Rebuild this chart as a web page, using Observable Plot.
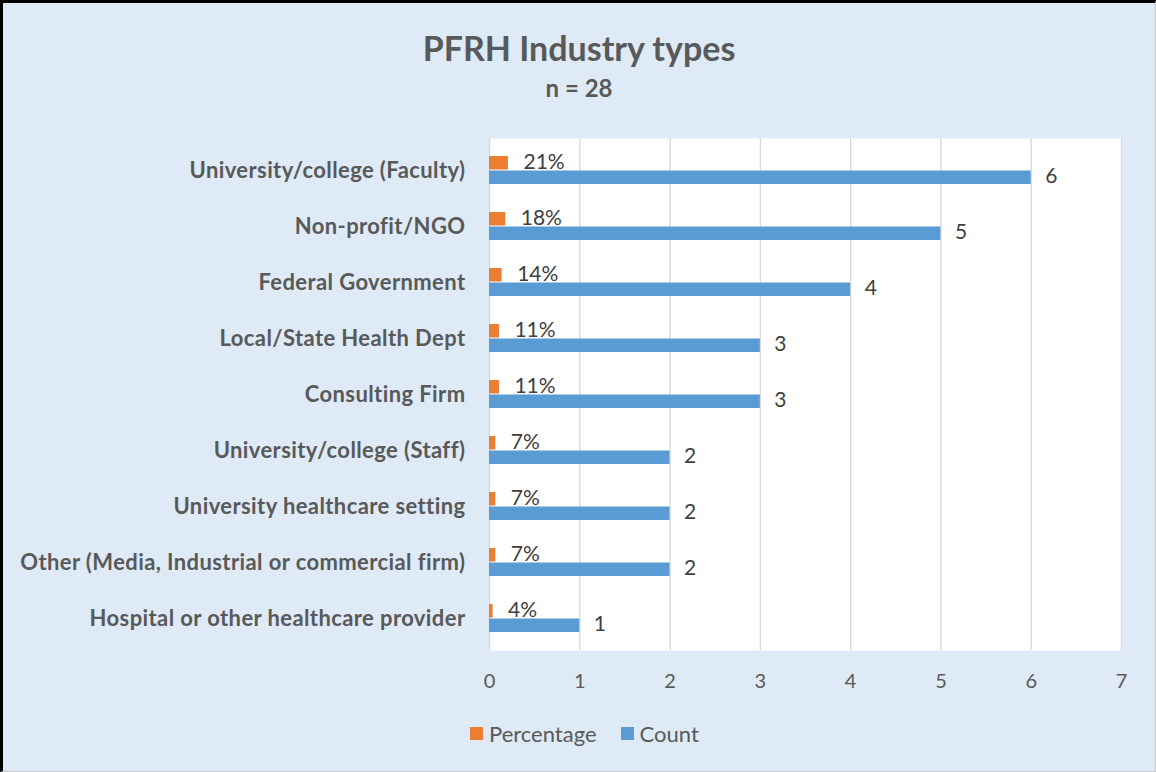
<!DOCTYPE html>
<html><head><meta charset="utf-8">
<script src="https://cdn.jsdelivr.net/npm/d3@7"></script>
<script src="https://cdn.jsdelivr.net/npm/@observablehq/plot@0.6"></script>
<style>
html,body{margin:0;padding:0;background:#fff;}
#chart{position:relative;width:1156px;height:772px;box-sizing:border-box;background:#DEEAF6;border-left:3px solid #000;border-top:3px solid #000;border-right:1px solid #c8c8c8;border-bottom:1px solid #c8c8c8;font-family:Lato,sans-serif;color:#595959;overflow:hidden;}
#title{position:absolute;left:0;right:0;top:28px;text-align:center;font-weight:bold;font-size:34px;line-height:34px;white-space:nowrap;}
#subtitle{position:absolute;left:0;right:0;top:73px;text-align:center;font-weight:bold;font-size:24px;line-height:24px;}
#plot{position:absolute;left:0;top:110px;}
#plot g[aria-label="y-axis tick label"] text{letter-spacing:0.4px;}
#legend{position:absolute;left:467px;top:717px;height:26px;display:flex;align-items:center;font-size:22px;white-space:nowrap;}
#legend .sw{display:inline-block;width:13px;height:13px;margin-right:6px;}
#legend .item{display:flex;align-items:center;margin-right:24px;}
</style>
</head><body>
<div id="chart">
  <div id="title">PFRH Industry types</div>
  <div id="subtitle">n = 28</div>
  <div id="plot"></div>
  <div id="legend"></div>
</div>
<script>
const categories = [
  "University/college (Faculty)",
  "Non-profit/NGO",
  "Federal Government",
  "Local/State Health Dept",
  "Consulting Firm",
  "University/college (Staff)",
  "University healthcare setting",
  "Other (Media, Industrial or commercial firm)",
  "Hospital or other healthcare provider"
];
const counts = [6, 5, 4, 3, 3, 2, 2, 2, 1];
const percentages = [0.21, 0.18, 0.14, 0.11, 0.11, 0.07, 0.07, 0.07, 0.04];
const seriesNames = ["Percentage", "Count"];
const seriesColors = ["#ED7D31", "#5B9BD5"];
const xTicks = [0, 1, 2, 3, 4, 5, 6, 7];

const rows = categories.map((c, i) => ({category: c, count: counts[i], pct: percentages[i]}));

const chart = Plot.plot({
  width: 1152,
  height: 592,
  marginTop: 25,
  marginBottom: 55,
  marginLeft: 486,
  marginRight: 34,
  style: {fontFamily: "Lato, sans-serif", background: "transparent", color: "#595959", overflow: "visible"},
  x: {domain: [0, 7], ticks: xTicks},
  y: {domain: categories, padding: 0},
  marks: [
    Plot.frame({fill: "white", stroke: "none"}),
    Plot.gridX(xTicks, {stroke: "#D9D9D9", strokeOpacity: 1, strokeWidth: 1.3}),
    Plot.barX(rows, {y: "category", x: "pct", fill: seriesColors[0], insetTop: 14, insetBottom: 28.5}),
    Plot.barX(rows, {y: "category", x: "count", fill: seriesColors[1], insetTop: 28.5, insetBottom: 14}),
    Plot.text(rows, {y: "category", x: "pct", text: d => Math.round(d.pct * 100) + "%", textAnchor: "start", dx: 15, dy: -8, fill: "#404040", fontSize: 21}),
    Plot.text(rows, {y: "category", x: "count", text: d => String(d.count), textAnchor: "start", dx: 14, dy: 6, fill: "#404040", fontSize: 21}),
    Plot.axisX(xTicks, {tickSize: 0, tickPadding: 23, fontSize: 20, label: null, fill: "#595959"}),
    Plot.axisY({tickSize: 0, tickPadding: 24, fontSize: 22, fontWeight: "bold", label: null, fill: "#595959"})
  ]
});
document.getElementById("plot").appendChild(chart);

const legend = document.getElementById("legend");
seriesNames.forEach((name, i) => {
  const item = document.createElement("span");
  item.className = "item";
  const sw = document.createElement("span");
  sw.className = "sw";
  sw.style.background = seriesColors[i];
  item.appendChild(sw);
  item.appendChild(document.createTextNode(name));
  legend.appendChild(item);
});
</script>
</body></html>
